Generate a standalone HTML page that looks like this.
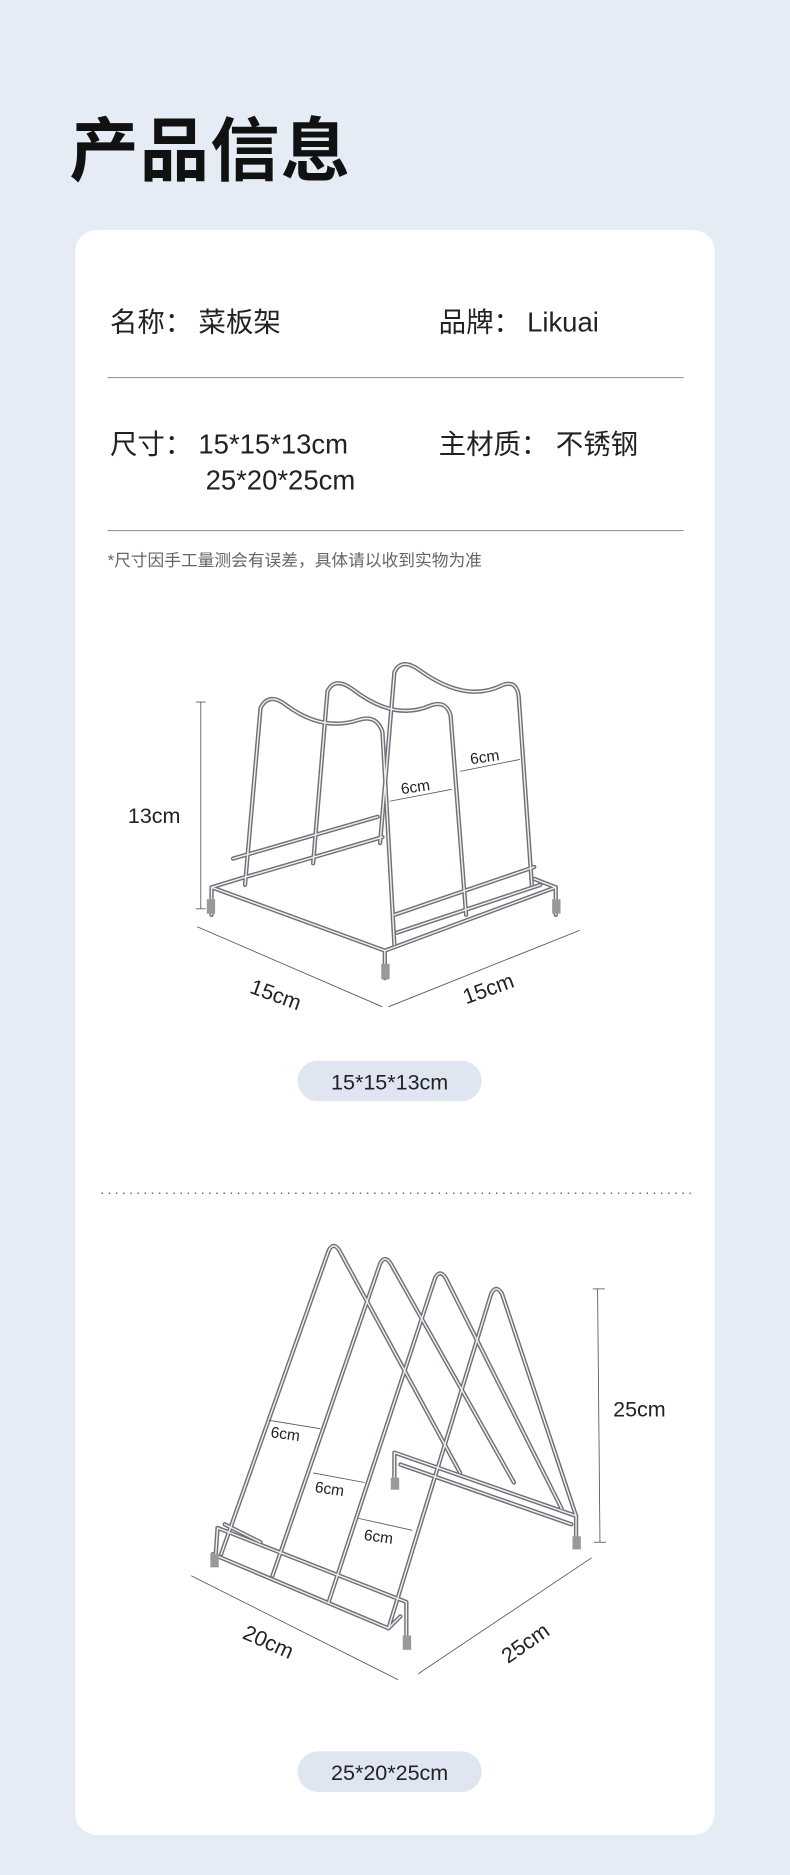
<!DOCTYPE html>
<html><head><meta charset="utf-8"><style>
html,body{margin:0;padding:0;background:#e5ecf6;}
svg{display:block}
text{font-family:"Liberation Sans","Noto Sans CJK SC",sans-serif;}
.w{fill:none;stroke:#6e7176;stroke-width:3.6;stroke-linecap:round;stroke-linejoin:round}
.wi{fill:none;stroke:#eef0f2;stroke-width:1.2;stroke-linecap:round;stroke-linejoin:round}
.d{stroke:#555;stroke-width:0.7;fill:none}
</style></head><body>
<svg width="790" height="1875" viewBox="0 0 661 1568" xmlns="http://www.w3.org/2000/svg">
<defs>
<g id="r1">
<path d="M177 765 L177 742 L322 795 L465 742 L465 765"/>
<path d="M322 795 L322 818"/>
<path d="M177 742 L200 735 M465 742 L447 735"/>
<path d="M195 718 L316 683"/>
<path d="M200 735 L320 700"/>
<path d="M330 765 L447 725"/>
<path d="M332 780 L452 740"/>
<path d="M205 740 L218 592 Q225 578 240 590 Q270 612 300 602 Q315 597 320 612 L330 790"/>
<path d="M262 722 L274 578 Q280 565 296 577 Q330 603 360 590 Q373 585 377 598 L390 765"/>
<path d="M318 705 L330 562 Q336 549 352 561 Q390 588 420 573 Q432 568 434 582 L445 740"/>
</g>
<g id="r2">
<path d="M180 1308 L182 1278 L340 1340 L340 1372"/>
<path d="M178 1300 L325 1362 L335 1352"/>
<path d="M188 1275 L218 1290"/>
<path d="M330 1240 L330 1215 L482 1268 L482 1290"/>
<path d="M335 1225 L478 1275"/>
<path d="M185 1300 L275 1046 Q279 1038 284 1046 L385 1232"/>
<path d="M228 1318 L318 1057 Q322 1049 327 1057 L430 1240"/>
<path d="M275 1340 L364 1069 Q368 1061 373 1069 L470 1262"/>
<path d="M325 1362 L411 1082 Q415 1074 420 1082 L482 1268"/>
</g>
</defs>
<rect width="661" height="1568" fill="#e5ecf6"/>
<text x="58" y="146" font-size="58" font-weight="bold" fill="#111" letter-spacing="1">产品信息</text>
<rect x="63" y="192" width="535" height="1343" rx="18" fill="#fff"/>
<g font-size="23" fill="#222">
<text x="92" y="277">名称：<tspan x="166">菜板架</tspan></text>
<text x="367" y="277">品牌：<tspan x="441">Likuai</tspan></text>
<text x="92" y="379">尺寸：<tspan x="166">15*15*13cm</tspan></text>
<text x="172" y="409">25*20*25cm</text>
<text x="367" y="379">主材质：<tspan x="465">不锈钢</tspan></text>
</g>
<line x1="90" y1="315.5" x2="572" y2="315.5" stroke="#999" stroke-width="1"/>
<line x1="90" y1="443.5" x2="572" y2="443.5" stroke="#999" stroke-width="1"/>
<text x="90" y="473" font-size="14" fill="#666">*尺寸因手工量测会有误差，具体请以收到实物为准</text>

<g class="w"><use href="#r1"/></g>
<g class="wi"><use href="#r1"/></g>
<rect x="173" y="752" width="7" height="12" fill="#999"/>
<rect x="319" y="806" width="7" height="13" fill="#999"/>
<rect x="462" y="752" width="7" height="12" fill="#999"/>
<g class="d">
<line x1="168" y1="587" x2="168" y2="760"/><line x1="164" y1="587" x2="172" y2="587"/><line x1="164" y1="760" x2="172" y2="760"/>
<line x1="165" y1="775" x2="320" y2="842"/><line x1="325" y1="842" x2="485" y2="778"/>
<line x1="326" y1="670" x2="378" y2="660"/><line x1="385" y1="645" x2="435" y2="635"/>
</g>
<g fill="#222">
<text x="107" y="688" font-size="18">13cm</text>
<text x="0" y="0" font-size="18" transform="translate(208,830) rotate(20)">15cm</text>
<text x="0" y="0" font-size="18" transform="translate(390,840) rotate(-20)">15cm</text>
<text x="0" y="0" font-size="13" transform="translate(336,664) rotate(-8)">6cm</text>
<text x="0" y="0" font-size="13" transform="translate(394,639) rotate(-8)">6cm</text>
</g>
<rect x="249" y="887" width="154" height="34" rx="17" fill="#dfe6f1"/>
<text x="326" y="911" font-size="18" fill="#222" text-anchor="middle">15*15*13cm</text>

<line x1="85" y1="998" x2="578" y2="998" stroke="#666" stroke-width="1.2" stroke-dasharray="1.2 4.8"/>

<g class="w"><use href="#r2"/></g>
<g class="wi"><use href="#r2"/></g>
<rect x="176" y="1300" width="7" height="11" fill="#999"/>
<rect x="337" y="1368" width="7" height="12" fill="#999"/>
<rect x="327" y="1236" width="7" height="10" fill="#999"/>
<rect x="479" y="1285" width="7" height="11" fill="#999"/>
<g class="d">
<line x1="500" y1="1078" x2="502" y2="1290"/><line x1="496" y1="1078" x2="506" y2="1078"/><line x1="497" y1="1290" x2="507" y2="1290"/>
<line x1="160" y1="1318" x2="333" y2="1405"/><line x1="350" y1="1400" x2="495" y2="1303"/>
<line x1="225" y1="1188" x2="268" y2="1195"/><line x1="262" y1="1232" x2="305" y2="1240"/><line x1="300" y1="1270" x2="345" y2="1280"/>
</g>
<g fill="#222">
<text x="513" y="1185" font-size="18">25cm</text>
<text x="0" y="0" font-size="18" transform="translate(202,1370) rotate(24)">20cm</text>
<text x="0" y="0" font-size="18" transform="translate(425,1392) rotate(-35)">25cm</text>
<text x="0" y="0" font-size="13" transform="translate(226,1202) rotate(8)">6cm</text>
<text x="0" y="0" font-size="13" transform="translate(263,1248) rotate(8)">6cm</text>
<text x="0" y="0" font-size="13" transform="translate(304,1288) rotate(8)">6cm</text>
</g>
<rect x="249" y="1465" width="154" height="34" rx="17" fill="#dfe6f1"/>
<text x="326" y="1489" font-size="18" fill="#222" text-anchor="middle">25*20*25cm</text>
</svg>
</body></html>
